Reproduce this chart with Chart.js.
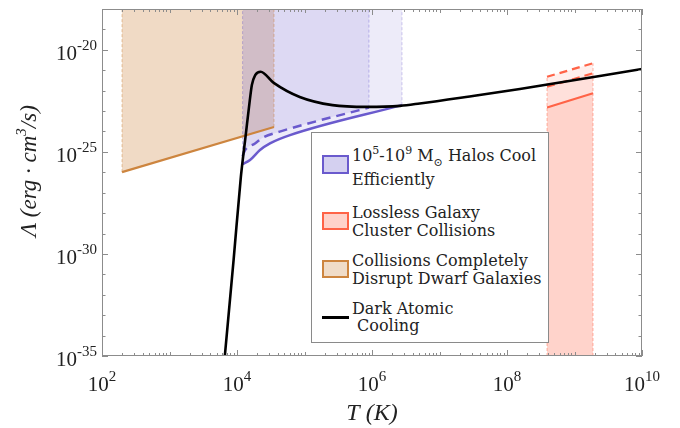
<!DOCTYPE html>
<html>
<head>
<meta charset="utf-8">
<script src="https://cdn.jsdelivr.net/npm/chart.js@4.4.1/dist/chart.umd.min.js"></script>
<style>
  html, body { margin: 0; padding: 0; background: #fff; }
  #wrap { position: relative; width: 680px; height: 428px; }
  #legend {
    position: absolute; left: 311px; top: 132px; width: 238px; height: 211px;
    box-sizing: border-box; border: 1px solid #8a8a8a; background: #fff;
    font-family: "DejaVu Serif", serif; font-size: 16px; color: #222;
  }
  #legend .sw { position: absolute; left: 10px; width: 27px; height: 18px; box-sizing: border-box; border: 2px solid; }
  #legend .tx { position: absolute; left: 40px; line-height: 18px; white-space: nowrap; }
  #legend .sup { position: relative; top: -7px; font-size: 11px; }
  #legend .sub { position: relative; top: 5px; font-size: 11px; }
</style>
</head>
<body>
<div id="wrap">
  <canvas id="chart" width="680" height="428"></canvas>
  <div id="legend">
    <div class="sw" style="top:22px;height:19px;background:rgb(212,208,240);border-color:rgb(106,90,205)"></div>
    <div class="tx" style="top:13.5px">10<span class="sup">5</span>-10<span class="sup">9</span> M<span class="sub">⊙</span> Halos Cool</div>
    <div class="tx" style="top:38px">Efficiently</div>

    <div class="sw" style="top:79px;background:rgb(255,210,202);border-color:rgb(255,99,71)"></div>
    <div class="tx" style="top:70.5px">Lossless Galaxy</div>
    <div class="tx" style="top:88.5px">Cluster Collisions</div>

    <div class="sw" style="top:127px;background:rgb(240,220,200);border-color:rgb(205,133,63)"></div>
    <div class="tx" style="top:118.5px">Collisions Completely</div>
    <div class="tx" style="top:136.5px">Disrupt Dwarf Galaxies</div>

    <div style="position:absolute;left:10px;top:183px;width:27px;height:3px;background:#000"></div>
    <div class="tx" style="top:166.5px">Dark Atomic</div>
    <div class="tx" style="top:183.5px">&nbsp;Cooling</div>
  </div>
</div>
<script>
    // Dark atomic cooling curve
    const coolT = [6.6e3, 8.9e3, 1.14e4, 1.23e4, 1.32e4, 1.55e4, 1.66e4, 1.86e4, 2.24e4, 3.5e4, 8.5e4, 2.6e5, 8.5e5, 2.6e6, 5.1e6, 2.8e7, 1.55e8, 1e10];
    const coolL = [1e-35, 5.0e-31, 5.8e-27, 5.6e-26, 3.8e-25, 3.5e-23, 1.9e-22, 5.8e-22, 8.5e-22, 2.4e-22, 4.9e-23, 1.95e-23, 1.6e-23, 1.8e-23, 2.35e-23, 5.2e-23, 1.2e-22, 1.15e-21];

    // Halos cool efficiently (solid and dashed boundaries)
    const haloSolidT = [1.21e4, 1.56e4, 2.19e4, 3.08e4, 6.1e4, 2.78e6];
    const haloSolidL = [2.5e-26, 4.0e-26, 1.23e-25, 2.6e-25, 6.6e-25, 1.95e-23];
    const haloDashT = [1.21e4, 1.32e4, 1.85e4, 2.45e4, 4.3e4, 9.0e5];
    const haloDashL = [6.2e-26, 1.23e-25, 2.6e-25, 5.1e-25, 9.8e-25, 1.48e-23];

    // Collisions disrupt dwarf galaxies
    const dwarfT = [1.98e2, 3.53e4];
    const dwarfL = [1.02e-26, 1.66e-24];

    // Lossless galaxy cluster collisions
    const clusterT = [3.92e8, 1.88e9];
    const clusterSolidL = [1.5e-23, 7.4e-23];
    const clusterMidL = [1.55e-22, 7.1e-22];
    const clusterTopL = [4.8e-22, 2.2e-21];

    // Axes
    const xMin = 1e2, xMax = 1e10;
    const yMin = 1e-35, yMax = 1e-18;
    const xLabelExps = [2, 4, 6, 8, 10];
    const yLabelExps = [-20, -25, -30, -35];

    const purple = 'rgb(106,90,205)';
    const orange = 'rgb(205,133,63)';
    const red = 'rgb(255,99,71)';

    const pts = (xs, ys) => xs.map((x, i) => ({ x: x, y: ys[i] }));
    const vline = (x, y0, y1) => [{ x: x, y: y0 }, { x: x, y: y1 }];

    function edge(data, color) {
      return { data: data, borderColor: color, borderWidth: 0.8, borderDash: [3, 2], fill: false };
    }

    // Frame, inward ticks, tick labels and axis titles
    const framePlugin = {
      id: 'frame',
      afterDraw(chart) {
        const ctx = chart.ctx;
        const a = chart.chartArea;
        const sx = chart.scales.x, sy = chart.scales.y;
        ctx.save();
        ctx.strokeStyle = '#8c8c8c';
        ctx.lineWidth = 1;
        ctx.strokeRect(a.left + 0.5, a.top + 0.5, a.right - a.left - 1, a.bottom - a.top - 1);

        ctx.beginPath();
        for (let e = 2; e <= 10; e++) {
          for (let m = 1; m <= 9; m++) {
            const v = m * Math.pow(10, e);
            if (v > xMax) break;
            const px = Math.round(sx.getPixelForValue(v)) + 0.5;
            const len = m === 1 ? (e % 2 === 0 ? 6 : 4) : 3;
            ctx.moveTo(px, a.bottom); ctx.lineTo(px, a.bottom - len);
            ctx.moveTo(px, a.top); ctx.lineTo(px, a.top + len);
          }
        }
        for (let e = -35; e <= -18; e++) {
          const py = Math.round(sy.getPixelForValue(Math.pow(10, e))) + 0.5;
          const len = e % 5 === 0 ? 6 : 3.5;
          ctx.moveTo(a.left, py); ctx.lineTo(a.left + len, py);
          ctx.moveTo(a.right, py); ctx.lineTo(a.right - len, py);
        }
        ctx.stroke();

        // tick labels
        ctx.fillStyle = '#222';
        const base = '21px "Liberation Serif", serif';
        const sup = '15px "Liberation Serif", serif';
        function pow10(x, y, exp, align) {
          ctx.font = base;
          const wb = ctx.measureText('10').width;
          ctx.font = sup;
          const ws = ctx.measureText(exp).width;
          const total = wb + ws;
          let x0 = align === 'right' ? x - total : x - total / 2;
          ctx.textAlign = 'left';
          ctx.textBaseline = 'alphabetic';
          ctx.font = base;
          ctx.fillText('10', x0, y);
          ctx.font = sup;
          ctx.fillText(exp, x0 + wb, y - 10);
        }
        xLabelExps.forEach(e => {
          pow10(sx.getPixelForValue(Math.pow(10, e)), 391, String(e), 'center');
        });
        yLabelExps.forEach(e => {
          pow10(a.left - 5, sy.getPixelForValue(Math.pow(10, e)) + 10, String(e), 'right');
        });

        // axis titles
        ctx.font = 'italic 24px "Liberation Serif", serif';
        ctx.textAlign = 'center';
        ctx.fillText('T (K)', (a.left + a.right) / 2, 420);

        ctx.translate(36, 171);
        ctx.rotate(-Math.PI / 2);
        const f1 = 'italic 23px "Liberation Serif", serif';
        const f2 = 'italic 15px "Liberation Serif", serif';
        const p1 = 'Λ (erg · cm', p2 = '3', p3 = '/s)';
        ctx.font = f1; const w1 = ctx.measureText(p1).width, w3 = ctx.measureText(p3).width;
        ctx.font = f2; const w2 = ctx.measureText(p2).width;
        let tx = -(w1 + w2 + w3) / 2;
        ctx.textAlign = 'left';
        ctx.font = f1; ctx.fillText(p1, tx, 0);
        ctx.font = f2; ctx.fillText(p2, tx + w1, -10);
        ctx.font = f1; ctx.fillText(p3, tx + w1 + w2, 0);
        ctx.restore();
      }
    };

    const ctx = document.getElementById('chart').getContext('2d');
    new Chart(ctx, {
      type: 'line',
      data: {
        datasets: [
          { data: pts(coolT, coolL), borderColor: '#000', borderWidth: 2.6, cubicInterpolationMode: 'monotone', fill: false },
          { data: pts(haloSolidT, haloSolidL), borderColor: purple, borderWidth: 2.5, cubicInterpolationMode: 'monotone',
            fill: 'end', backgroundColor: 'rgba(106,90,205,0.12)' },
          { data: pts(haloDashT, haloDashL), borderColor: purple, borderWidth: 2.5, borderDash: [9, 6], cubicInterpolationMode: 'monotone',
            fill: 'end', backgroundColor: 'rgba(106,90,205,0.12)' },
          { data: pts(dwarfT, dwarfL), borderColor: orange, borderWidth: 2.2, fill: 'end', backgroundColor: 'rgba(205,133,63,0.3)' },
          { data: pts(clusterT, clusterSolidL), borderColor: red, borderWidth: 2.2, fill: 'start', backgroundColor: 'rgba(255,99,71,0.1)' },
          { data: pts(clusterT, clusterMidL), borderColor: red, borderWidth: 2.2, borderDash: [8, 5], fill: 'start', backgroundColor: 'rgba(255,99,71,0.1)' },
          { data: pts(clusterT, clusterTopL), borderColor: red, borderWidth: 2.2, borderDash: [8, 5], fill: 'start', backgroundColor: 'rgba(255,99,71,0.1)' },
          edge(vline(haloSolidT[0], haloSolidL[0], yMax), 'rgba(106,90,205,0.5)'),
          edge(vline(haloDashT[haloDashT.length - 1], haloDashL[haloDashL.length - 1], yMax), 'rgba(106,90,205,0.5)'),
          edge(vline(haloSolidT[haloSolidT.length - 1], haloSolidL[haloSolidL.length - 1], yMax), 'rgba(106,90,205,0.4)'),
          edge(vline(dwarfT[0], dwarfL[0], yMax), 'rgba(205,133,63,0.6)'),
          edge(vline(dwarfT[1], dwarfL[1], yMax), 'rgba(205,133,63,0.6)'),
          edge(vline(clusterT[0], yMin, clusterTopL[0]), 'rgba(255,99,71,0.6)'),
          edge(vline(clusterT[1], yMin, clusterTopL[1]), 'rgba(255,99,71,0.6)')
        ]
      },
      options: {
        responsive: false,
        animation: false,
        devicePixelRatio: 1,
        elements: { point: { radius: 0 }, line: { tension: 0 } },
        layout: { padding: { top: 9, right: 38, left: 0, bottom: 0 } },
        plugins: {
          legend: { display: false },
          tooltip: { enabled: false },
          filler: { drawTime: 'beforeDatasetsDraw' }
        },
        scales: {
          x: {
            type: 'logarithmic', min: xMin, max: xMax,
            ticks: { display: false }, grid: { display: false }, border: { display: false },
            afterFit: s => { s.height = 72; }
          },
          y: {
            type: 'logarithmic', min: yMin, max: yMax,
            ticks: { display: false }, grid: { display: false }, border: { display: false },
            afterFit: s => { s.width = 102; }
          }
        }
      },
      plugins: [framePlugin]
    });
</script>
</body>
</html>
